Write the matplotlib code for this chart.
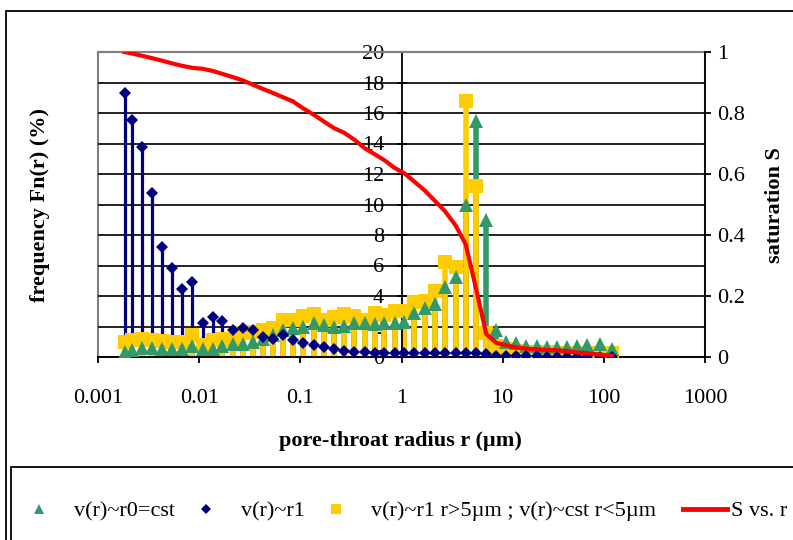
import matplotlib
matplotlib.use("Agg")
import matplotlib.pyplot as plt
from matplotlib.lines import Line2D
from matplotlib.patches import Rectangle

plt.rcParams['font.family'] = ['Liberation Serif', 'DejaVu Serif']

# ---------------- data ----------------
radius_um = [0.00183, 0.00217, 0.00270, 0.00340, 0.00426, 0.00535, 0.00672, 0.00859, 0.0108, 0.0136,
             0.0170, 0.0214, 0.0269, 0.0338, 0.0425, 0.0533, 0.0670, 0.0846, 0.107, 0.135,
             0.171, 0.216, 0.272, 0.343, 0.431, 0.541, 0.679, 0.853, 1.07, 1.34,
             1.71, 2.14, 2.69, 3.42, 4.31, 5.45, 6.88, 8.69, 10.9, 13.7,
             17.2, 21.6, 27.2, 34.4, 43.5, 54.9, 68.9, 91.6, 120.5]

fn_cst = [0.35, 0.45, 0.6, 0.6, 0.55, 0.55, 0.55, 0.75, 0.5, 0.55,
          0.7, 0.85, 0.85, 1.0, 1.2, 1.45, 1.75, 1.9, 2.0, 2.2,
          2.1, 1.95, 2.05, 2.2, 2.2, 2.15, 2.25, 2.2, 2.3, 2.9,
          3.2, 3.5, 4.6, 5.25, 10.0, 15.5, 9.0, 1.75, 1.0, 0.9,
          0.75, 0.7, 0.68, 0.68, 0.65, 0.7, 0.8, 0.85, 0.5]

fn_r1 = [17.3, 15.55, 13.75, 10.75, 7.2, 5.85, 4.45, 4.95, 2.2, 2.65,
         2.35, 1.75, 1.9, 1.75, 1.3, 1.15, 1.45, 1.1, 0.95, 0.8,
         0.65, 0.5, 0.4, 0.35, 0.3, 0.28, 0.27, 0.26, 0.25, 0.25,
         0.25, 0.25, 0.25, 0.25, 0.25, 0.25, 0.2, 0.08, 0.05, 0.05,
         0.04, 0.04, 0.03, 0.03, 0.03, 0.02, 0.02, 0.02, 0.02]

fn_mixed = [1.0, 1.1, 1.2, 1.1, 1.05, 1.0, 1.0, 1.45, 0.8, 1.1,
            1.2, 1.1, 1.55, 1.65, 1.8, 1.9, 2.4, 2.4, 2.7, 2.8,
            2.45, 2.6, 2.85, 2.7, 2.45, 2.9, 2.75, 3.0, 3.0, 3.6,
            3.7, 4.3, 6.25, 5.9, 16.8, 11.2, 1.55, 0.7, 0.5, 0.4,
            0.35, 0.3, 0.3, 0.28, 0.27, 0.25, 0.25, 0.25, 0.25]

saturation = [1.0, 0.995, 0.988, 0.98, 0.972, 0.963, 0.955, 0.948, 0.945, 0.938,
              0.928, 0.918, 0.907, 0.893, 0.879, 0.866, 0.852, 0.838, 0.815, 0.795,
              0.772, 0.75, 0.735, 0.712, 0.685, 0.665, 0.645, 0.62, 0.602, 0.575,
              0.545, 0.512, 0.478, 0.432, 0.37, 0.225, 0.075, 0.046, 0.038, 0.031,
              0.027, 0.025, 0.023, 0.022, 0.019, 0.015, 0.012, 0.008, 0.005]

x_ticks = [0.001, 0.01, 0.1, 1, 10, 100, 1000]
x_ticklabels = ["0.001", "0.01", "0.1", "1", "10", "100", "1000"]
y_ticks = [0, 2, 4, 6, 8, 10, 12, 14, 16, 18, 20]
y_ticklabels = [str(v) for v in y_ticks]
s_ticks = [0, 0.2, 0.4, 0.6, 0.8, 1.0]
s_ticklabels = ["0", "0.2", "0.4", "0.6", "0.8", "1"]

labels = ["v(r)~r0=cst", "v(r)~r1", "v(r)~r1 r>5\u00b5m ; v(r)~cst r<5\u00b5m", "S vs. r"]

GREEN = "#339966"
NAVY = "#000080"
YELLOW = "#FFCC00"
RED = "#FF0000"
GRAY = "#808080"
FS = 16

W, H = 793, 540
fig = plt.figure(figsize=(W / 100, H / 100), dpi=100)

ax = fig.add_axes([98 / W, 1 - 357 / H, (705 - 98) / W, (357 - 52) / H])
ax.set_xscale("log")
ax.set_xlim(1e-3, 1e3)
ax.set_ylim(0, 20)
ax.set_axisbelow(True)

# drop bars
ax.vlines(radius_um, 0, fn_r1, color=NAVY, lw=2.3, zorder=2.0)
ax.vlines(radius_um, 0, fn_cst, color=GREEN, lw=4.0, zorder=2.1)
ax.vlines(radius_um, 0, fn_mixed, color=YELLOW, lw=4.0, zorder=2.2)
# markers
ax.plot(radius_um, fn_mixed, ls="none", marker="s", ms=9.5, color=YELLOW, mew=0, zorder=3.0)
ax.plot(radius_um, fn_cst, ls="none", marker="^", ms=9.5, color=GREEN, mew=0, zorder=3.1)
ax.plot(radius_um, fn_r1, ls="none", marker="D", ms=6.5, color=NAVY, mew=0, zorder=3.2)

# axes styling
ax.yaxis.grid(True, color="#111111", lw=1.3)
ax.xaxis.grid(False)
ax.spines["left"].set_position(("data", 1))
ax.spines["left"].set_color("black")
ax.spines["left"].set_linewidth(1.3)
ax.spines["right"].set_visible(False)
ax.spines["top"].set_color(GRAY)
ax.spines["top"].set_linewidth(1.5)
ax.spines["bottom"].set_color("black")
ax.spines["bottom"].set_linewidth(1.3)
ax.add_patch(Rectangle((0, 0), 1, 1, transform=ax.transAxes, fill=False,
                       ec=GRAY, lw=1.5, zorder=0.5, clip_on=False))

ax.set_xticks(x_ticks)
ax.set_xticklabels(x_ticklabels)
ax.xaxis.set_minor_locator(matplotlib.ticker.NullLocator())
ax.tick_params(axis="x", direction="out", length=4, width=1.3, pad=19, labelsize=FS)
ax.set_yticks(y_ticks)
ax.set_yticklabels(y_ticklabels)
ax.tick_params(axis="y", direction="inout", length=7, width=1.3, pad=9, labelsize=FS)

ax2 = ax.twinx()
ax2.set_ylim(0, 1)
ax2.plot(radius_um, saturation, color=RED, lw=3.0, zorder=4)
ax2.set_yticks(s_ticks)
ax2.set_yticklabels(s_ticklabels)
ax2.tick_params(axis="y", direction="out", length=4, width=1.3, pad=5, labelsize=FS)
for s in ["left", "top", "bottom"]:
    ax2.spines[s].set_visible(False)
ax2.spines["right"].set_color("black")
ax2.spines["right"].set_linewidth(1.3)

fig.text(40 / W, 1 - 205 / H, "frequency Fn(r) (%)", rotation=90, ha="center", va="center",
         fontsize=FS, fontweight="bold")
fig.text(775 / W, 1 - 205 / H, "saturation S", rotation=90, ha="center", va="center",
         fontsize=FS, fontweight="bold")
fig.text(400 / W, 1 - 441 / H, "pore-throat radius r (\u00b5m)", ha="center", va="center",
         fontsize=FS, fontweight="bold")

# frames
fig.patches.append(Rectangle((6 / W, -0.2), 1.2, 0.2 + (H - 11) / H, transform=fig.transFigure,
                             fill=False, ec="black", lw=1.3))
fig.patches.append(Rectangle((11 / W, -0.2), 1.2, 0.2 + (1 - 467 / H), transform=fig.transFigure,
                             fill=False, ec="black", lw=1.3))

# legend (one entry per legend for exact placement)
handles = [
    Line2D([], [], ls="none", marker="^", ms=7.5, color=GREEN, mew=0),
    Line2D([], [], ls="none", marker="D", ms=5.5, color=NAVY, mew=0),
    Line2D([], [], ls="none", marker="s", ms=7.5, color=YELLOW, mew=0),
    Line2D([], [], color=RED, lw=3.5),
]
leg_left = [25, 192, 322, 683]
leg_hlen = [1.3, 1.3, 1.3, 2.0]
leg_pad = [0.9, 0.9, 0.9, 0.15]
legy = 1 - 511 / H
for h, lab, xl, hl, hp in zip(handles, labels, leg_left, leg_hlen, leg_pad):
    fig.legend([h], [lab], loc="center left", bbox_to_anchor=(xl / W, legy),
               frameon=False, fontsize=FS, borderpad=0, borderaxespad=0,
               handlelength=hl, handletextpad=hp)

fig.savefig("out.png", dpi=100)
